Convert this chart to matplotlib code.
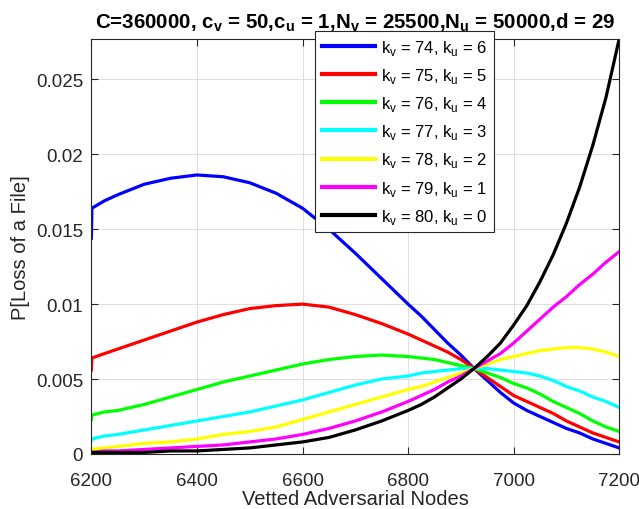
import numpy as np
import matplotlib
matplotlib.use('Agg')
import matplotlib.pyplot as plt

plt.rcParams['font.family'] = ['Liberation Sans', 'DejaVu Sans']
plt.rcParams['mathtext.fontset'] = 'custom'
plt.rcParams['mathtext.rm'] = 'Liberation Sans'
plt.rcParams['mathtext.bf'] = 'Liberation Sans:bold'

#vetted adversarial nodes (x values shared by every curve)
nodes = [6200, 6201, 6225, 6250, 6300, 6350, 6400, 6450, 6500, 6550, 6600,
         6650, 6700, 6750, 6800, 6825, 6850, 6875, 6900, 6925, 6950, 6975,
         7000, 7025, 7050, 7075, 7100, 7125, 7150, 7175, 7200]

#P[Loss of a File] for each (k_v, k_u) pair
p_74_6 = [0.0144, 0.0164, 0.0169, 0.0173, 0.0180, 0.0184, 0.01862, 0.0185,
          0.0181, 0.0174, 0.0164, 0.0150, 0.0134, 0.0117, 0.0100, 0.0092,
          0.0083, 0.0074, 0.0066, 0.0057, 0.0049, 0.0041, 0.0034, 0.0029,
          0.0025, 0.0021, 0.0017, 0.0014, 0.0010, 0.0007, 0.0004]
p_75_5 = [0.0056, 0.0064, 0.0067, 0.0070, 0.0076, 0.0082, 0.0088, 0.0093,
          0.0097, 0.0099, 0.0100, 0.0098, 0.0093, 0.0087, 0.0080, 0.0076,
          0.0072, 0.0068, 0.0063, 0.0057, 0.0051, 0.0045, 0.0039, 0.0035,
          0.0031, 0.0027, 0.0022, 0.0018, 0.0014, 0.0011, 0.0008]
p_76_4 = [0.0023, 0.0026, 0.0028, 0.0029, 0.0033, 0.0038, 0.0043, 0.0048,
          0.0052, 0.0056, 0.0060, 0.0063, 0.0065, 0.0066, 0.0065, 0.0064,
          0.0063, 0.0061, 0.0059, 0.0057, 0.0054, 0.0051, 0.0047, 0.0044,
          0.0040, 0.0035, 0.0031, 0.0027, 0.0022, 0.0018, 0.0015]
p_77_3 = [0.0009, 0.0010, 0.0012, 0.0013, 0.0016, 0.0019, 0.0022, 0.0025,
          0.0028, 0.0032, 0.0036, 0.0041, 0.0046, 0.0050, 0.0052, 0.0054,
          0.0055, 0.0056, 0.0057, 0.0057, 0.0057, 0.0056, 0.0055, 0.0054,
          0.0052, 0.0049, 0.0045, 0.0042, 0.0038, 0.0035, 0.0031]
p_78_2 = [0.0003, 0.0003, 0.0004, 0.0005, 0.0007, 0.0008, 0.0010, 0.0013,
          0.0015, 0.0018, 0.0023, 0.0028, 0.0033, 0.0038, 0.0043, 0.0045,
          0.0048, 0.0051, 0.0054, 0.0057, 0.0060, 0.0063, 0.0065, 0.0067,
          0.0069, 0.0070, 0.0071, 0.0071, 0.0070, 0.0068, 0.0065]
p_79_1 = [0.0001, 0.0001, 0.0002, 0.0002, 0.0003, 0.0004, 0.0005, 0.0006,
          0.0008, 0.0010, 0.0013, 0.0017, 0.0022, 0.0028, 0.0035, 0.0039,
          0.0043, 0.0048, 0.0052, 0.0057, 0.0062, 0.0067, 0.0074, 0.0082,
          0.0090, 0.0098, 0.0105, 0.0113, 0.0120, 0.0128, 0.0135]
p_80_0 = [0.0001, 0.0001, 0.0001, 0.0001, 0.0001, 0.0002, 0.0002, 0.0003,
          0.0004, 0.0006, 0.0008, 0.0011, 0.0016, 0.0022, 0.0029, 0.0033,
          0.0038, 0.0044, 0.0050, 0.0057, 0.0065, 0.0074, 0.0086, 0.0099,
          0.0115, 0.0133, 0.0154, 0.0178, 0.0206, 0.0238, 0.0277]

series = [p_74_6, p_75_5, p_76_4, p_77_3, p_78_2, p_79_1, p_80_0]
k_v = [74, 75, 76, 77, 78, 79, 80]
k_u = [6, 5, 4, 3, 2, 1, 0]
colors = ['#0000ff', '#ff0000', '#00ff00', '#00ffff', '#ffff00', '#ff00ff', '#000000']

x_ticks = [6200, 6400, 6600, 6800, 7000, 7200]
y_ticks = [0, 0.005, 0.01, 0.015, 0.02, 0.025]
y_tick_labels = ['0', '0.005', '0.01', '0.015', '0.02', '0.025']

fig = plt.figure(figsize=(6.39, 5.10), dpi=100)
ax = fig.add_axes([0.143, 0.108, 0.826, 0.8137])

for vals, kv, ku, col in zip(series, k_v, k_u, colors):
    label = r'k$_\mathregular{v}$ = %d, k$_\mathregular{u}$ = %d' % (kv, ku)
    ax.plot(nodes, vals, color=col, linewidth=2.3, label=label)

ax.set_xlim(6200, 7200)
ax.set_ylim(0, max(p_80_0))
ax.set_xticks(x_ticks)
ax.set_yticks(y_ticks)
ax.set_yticklabels(y_tick_labels)

#matlab like axes
ax.grid(True, color='#dedede', linewidth=0.7)
ax.set_axisbelow(True)
for s in ax.spines.values():
    s.set_color('#262626')
    s.set_linewidth(0.8)
ax.tick_params(direction='in', top=True, right=True, labelsize=13.5,
               colors='#262626', length=5, width=0.8)
ax.tick_params(axis='x', pad=13)
ax.tick_params(axis='y', pad=6)

ax.set_xlabel('Vetted Adversarial Nodes', fontsize=14.5, color='#262626',
              labelpad=0)
ax.set_ylabel('P[Loss of a File]', fontsize=14.5, color='#262626')
ax.set_title(r'C=360000, c$_\mathbf{v}$ = 50,c$_\mathbf{u}$ = 1,'
             r'N$_\mathbf{v}$ = 25500,N$_\mathbf{u}$ = 50000,d = 29',
             fontsize=14.8, fontweight='bold', pad=8)

leg = ax.legend(loc='upper left', bbox_to_anchor=(0.493, 0.937),
                bbox_transform=fig.transFigure, borderaxespad=0,
                fontsize=12, fancybox=False, framealpha=1,
                edgecolor='#262626', handlelength=3.2, labelspacing=0.55,
                borderpad=0.4, handletextpad=0.35)
leg.get_frame().set_linewidth(0.8)
for line in leg.get_lines():
    line.set_linewidth(3)

plt.savefig('out.png', dpi=100)
